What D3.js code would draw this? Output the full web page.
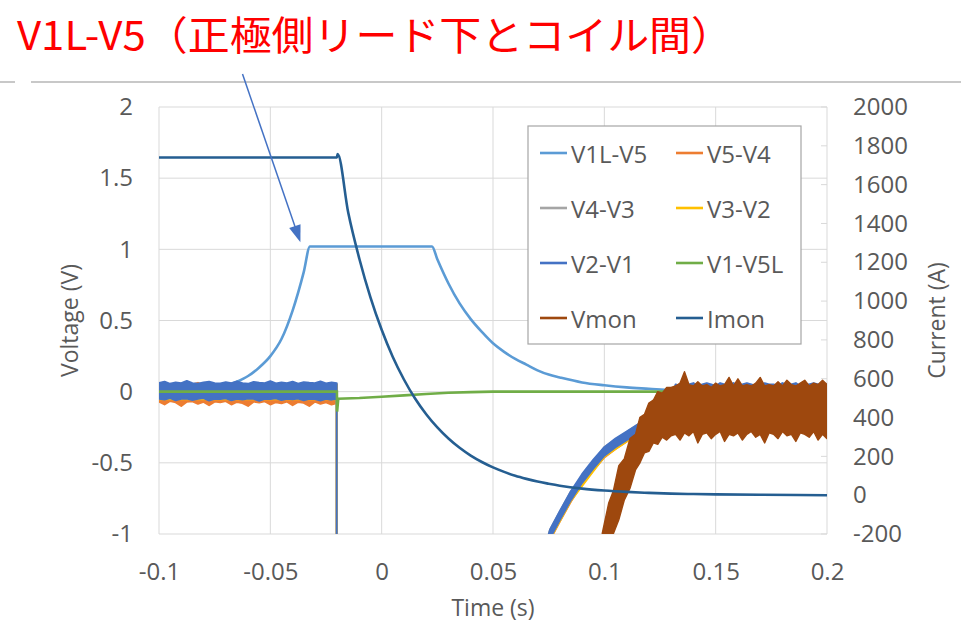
<!DOCTYPE html>
<html>
<head>
<meta charset="utf-8">
<script src="https://cdn.jsdelivr.net/npm/d3@7"></script>
<style>
  body { margin: 0; background: #fff; }
  svg { display: block; }
  .tick text { fill: #595959; font-size: 24px; font-family: "Open Sans", sans-serif; }
</style>
</head>
<body>
<div class="chart"></div>
<script>
// ---- data ----
const titleText = 'V1L-V5（正極側リード下とコイル間）';
const timeTicks = [-0.1, -0.05, 0, 0.05, 0.1, 0.15, 0.2];
const voltTicks = [-1, -0.5, 0, 0.5, 1, 1.5, 2];
const currentTicks = [-200, 0, 200, 400, 600, 800, 1000, 1200, 1400, 1600, 1800, 2000];

const seriesNames = ['V1L-V5', 'V5-V4', 'V4-V3', 'V3-V2', 'V2-V1', 'V1-V5L', 'Vmon', 'Imon'];
const seriesColors = ['#5B9BD5', '#ED7D31', '#A5A5A5', '#FFC000', '#4472C4', '#70AD47', '#9E480E', '#255E91'];

// smooth traces [time, value]
const v1lv5 = [[-0.1, 0], [-0.08, 0.01], [-0.075, 0.02], [-0.07, 0.04], [-0.065, 0.07], [-0.06, 0.11],
  [-0.055, 0.17], [-0.05, 0.25], [-0.045, 0.37], [-0.04, 0.57], [-0.035, 0.84], [-0.0322, 1.02],
  [0.0226, 1.02], [0.025, 0.93], [0.03, 0.76], [0.035, 0.62], [0.04, 0.51], [0.045, 0.42], [0.05, 0.34],
  [0.055, 0.28], [0.06, 0.23], [0.065, 0.19], [0.07, 0.15], [0.075, 0.12], [0.08, 0.1], [0.09, 0.065],
  [0.1, 0.045], [0.11, 0.03], [0.12, 0.02], [0.13, 0.01], [0.14, 0.005], [0.2, 0]];
const v1v5l = [[-0.1, 0], [-0.0201, 0], [-0.02, -0.14], [-0.0195, -0.05], [-0.01, -0.045], [0, -0.036],
  [0.01, -0.026], [0.02, -0.016], [0.03, -0.008], [0.04, -0.003], [0.05, 0], [0.2, 0]];
const imon = [[-0.1, 1740], [-0.0201, 1740], [-0.0198, 1758], [-0.015, 1455], [-0.01, 1217], [-0.005, 1018],
  [0, 852], [0.005, 712], [0.01, 596], [0.015, 498], [0.02, 417], [0.025, 349], [0.03, 292], [0.035, 244],
  [0.04, 204], [0.045, 171], [0.05, 143], [0.055, 120], [0.06, 100], [0.065, 84], [0.07, 70], [0.075, 59],
  [0.08, 49], [0.09, 34], [0.1, 24], [0.11, 17], [0.12, 12], [0.13, 8], [0.14, 6], [0.15, 4], [0.17, 2], [0.2, 0]];

// noisy traces: sample times with lower / upper envelope
const preTimes = [-0.1, -0.0975, -0.095, -0.0925, -0.09, -0.0875, -0.085, -0.0825, -0.08, -0.0775, -0.075,
  -0.0725, -0.07, -0.0675, -0.065, -0.0625, -0.06, -0.0575, -0.055, -0.0525, -0.05, -0.0475, -0.045,
  -0.0425, -0.04, -0.0375, -0.035, -0.0325, -0.03, -0.0275, -0.025, -0.0225, -0.0202];
const dropTimes = [-0.0202, 0.066];
const dropLevel = [-3, -3];
const recTimes = [0.07, 0.0756, 0.08, 0.085, 0.09, 0.095, 0.1, 0.105, 0.11, 0.116, 0.12, 0.125, 0.13];
const flatTimes = [0.132, 0.134, 0.136, 0.138, 0.14, 0.142, 0.144, 0.146, 0.148, 0.15, 0.152, 0.154, 0.156,
  0.158, 0.16, 0.162, 0.164, 0.166, 0.168, 0.17, 0.172, 0.174, 0.176, 0.178, 0.18, 0.182, 0.184, 0.186,
  0.188, 0.19, 0.192, 0.194, 0.196, 0.198, 0.2];

const v2v1PreHi = [0.06, 0.07, 0.055, 0.065, 0.06, 0.075, 0.06, 0.055, 0.065, 0.07, 0.06, 0.058, 0.066, 0.06,
  0.072, 0.06, 0.055, 0.068, 0.062, 0.06, 0.074, 0.058, 0.064, 0.06, 0.07, 0.056, 0.066, 0.062, 0.06, 0.072,
  0.058, 0.064, 0.06];
const v2v1PreLo = [-0.05, -0.055, -0.045, -0.06, -0.05, -0.048, -0.058, -0.05, -0.045, -0.062, -0.05, -0.052,
  -0.046, -0.06, -0.05, -0.055, -0.048, -0.05, -0.065, -0.05, -0.052, -0.046, -0.058, -0.05, -0.054, -0.048,
  -0.06, -0.05, -0.052, -0.062, -0.05, -0.056, -0.05];
const v2v1RecLo = [-1.35, -1.03, -0.9, -0.76, -0.64, -0.54, -0.45, -0.39, -0.34, -0.28, -0.23, -0.18, -0.13];
const v2v1RecHi = [-1.29, -0.97, -0.84, -0.7, -0.58, -0.48, -0.39, -0.33, -0.28, -0.22, -0.17, -0.12, -0.07];
const v2v1FlatHi = [0.05, 0.04, 0.06, 0.05, 0.06, 0.04, 0.05, 0.06, 0.05, 0.04, 0.06, 0.05, 0.05, 0.06, 0.04,
  0.05, 0.06, 0.05, 0.04, 0.05, 0.06, 0.05, 0.05, 0.04, 0.06, 0.05, 0.05, 0.06, 0.04, 0.05, 0.05, 0.06, 0.05,
  0.04, 0.05];
const v2v1FlatLo = [-0.12, -0.12, -0.12, -0.12, -0.12, -0.12, -0.12, -0.12, -0.12, -0.12, -0.12, -0.12, -0.12,
  -0.12, -0.12, -0.12, -0.12, -0.12, -0.12, -0.12, -0.12, -0.12, -0.12, -0.12, -0.12, -0.12, -0.12, -0.12,
  -0.12, -0.12, -0.12, -0.12, -0.12, -0.12, -0.12];

const v5v4PreHi = [0.05, 0.068, 0.045, 0.05, 0.055, 0.048, 0.05, 0.062, 0.045, 0.05, 0.052, 0.048, 0.05, 0.055,
  0.05, 0.045, 0.05, 0.052, 0.048, 0.05, 0.055, 0.05, 0.046, 0.05, 0.052, 0.048, 0.05, 0.054, 0.05, 0.046,
  0.05, 0.052, 0.05];
const v5v4PreLo = [-0.07, -0.09, -0.065, -0.075, -0.1, -0.07, -0.068, -0.085, -0.072, -0.095, -0.07, -0.075,
  -0.066, -0.09, -0.072, -0.08, -0.1, -0.07, -0.076, -0.068, -0.09, -0.074, -0.082, -0.07, -0.095, -0.072,
  -0.078, -0.1, -0.07, -0.085, -0.075, -0.09, -0.08];
const v5v4RecLo = [-1.36, -1.042, -0.912, -0.772, -0.652, -0.552, -0.462, -0.402, -0.352, -0.292, -0.242, -0.19, -0.14];
const v5v4RecHi = [-1.3, -0.99, -0.86, -0.72, -0.6, -0.5, -0.41, -0.35, -0.3, -0.24, -0.19, -0.14, -0.09];
const v5v4TailTimes = [0.135, 0.2];
const v5v4TailLo = [-0.12, -0.12];
const v5v4TailHi = [0.03, 0.03];

const v4v3PreTimes = [-0.1, -0.06, -0.0202];
const v4v3PreLo = [-0.05, -0.05, -0.05];
const v4v3PreHi = [0.05, 0.05, 0.05];
const v4v3RecTimes = [0.07, 0.0756, 0.085, 0.1, 0.116, 0.13, 0.2];
const v4v3RecLo = [-1.35, -1.03, -0.76, -0.45, -0.28, -0.12, -0.1];
const v4v3RecHi = [-1.29, -0.97, -0.7, -0.39, -0.22, 0.02, 0.02];

const v3v2PreTimes = [-0.1, -0.06, -0.0202];
const v3v2PreLo = [-0.054, -0.054, -0.054];
const v3v2PreHi = [0.05, 0.05, 0.05];
const v3v2RecTimes = [0.07, 0.0756, 0.085, 0.1, 0.116, 0.13, 0.2];
const v3v2RecLo = [-1.355, -1.036, -0.766, -0.456, -0.286, -0.12, -0.1];
const v3v2RecHi = [-1.3, -0.98, -0.71, -0.4, -0.23, 0.02, 0.02];

const vmonRiseTimes = [0.095, 0.099, 0.102, 0.104, 0.1065, 0.109, 0.1115, 0.114, 0.116, 0.118, 0.12, 0.122,
  0.124, 0.126, 0.128, 0.13];
const vmonRiseLo = [-1.7, -1.3, -1.1, -1.0, -0.9, -0.76, -0.68, -0.55, -0.5, -0.43, -0.42, -0.36, -0.37, -0.32,
  -0.34, -0.31];
const vmonRiseHi = [-1.25, -1.0, -0.78, -0.7, -0.52, -0.47, -0.33, -0.3, -0.18, -0.16, -0.08, -0.06, 0.0, -0.01,
  0.03, 0.03];
const vmonFlatHi = [0.04, 0.06, 0.14, 0.05, 0.04, 0.07, 0.04, 0.05, 0.03, 0.06, 0.04, 0.05, 0.1, 0.04, 0.09,
  0.04, 0.05, 0.04, 0.06, 0.1, 0.04, 0.05, 0.04, 0.07, 0.04, 0.08, 0.05, 0.04, 0.06, 0.08, 0.04, 0.06, 0.05,
  0.08, 0.05];
const vmonFlatLo = [-0.3, -0.34, -0.29, -0.31, -0.28, -0.36, -0.3, -0.29, -0.33, -0.3, -0.28, -0.35, -0.3,
  -0.31, -0.29, -0.34, -0.3, -0.28, -0.32, -0.3, -0.36, -0.29, -0.3, -0.33, -0.28, -0.31, -0.3, -0.35, -0.29,
  -0.3, -0.32, -0.28, -0.34, -0.3, -0.33];

// ---- helpers ----
const rows = (ts, lo, hi) => ts.map((t, i) => ({t: t, lo: lo[i], hi: hi[i]}));

const bands = [
  {name: 'V5-V4', data: [].concat(rows(preTimes, v5v4PreLo, v5v4PreHi), rows(dropTimes, dropLevel, dropLevel),
    rows(recTimes, v5v4RecLo, v5v4RecHi), rows(v5v4TailTimes, v5v4TailLo, v5v4TailHi))},
  {name: 'V4-V3', data: [].concat(rows(v4v3PreTimes, v4v3PreLo, v4v3PreHi), rows(dropTimes, dropLevel, dropLevel),
    rows(v4v3RecTimes, v4v3RecLo, v4v3RecHi))},
  {name: 'V3-V2', data: [].concat(rows(v3v2PreTimes, v3v2PreLo, v3v2PreHi), rows(dropTimes, dropLevel, dropLevel),
    rows(v3v2RecTimes, v3v2RecLo, v3v2RecHi))},
  {name: 'V2-V1', data: [].concat(rows(preTimes, v2v1PreLo, v2v1PreHi), rows(dropTimes, dropLevel, dropLevel),
    rows(recTimes, v2v1RecLo, v2v1RecHi), rows(flatTimes, v2v1FlatLo, v2v1FlatHi))}
];
const vmonBand = [].concat(rows(vmonRiseTimes, vmonRiseLo, vmonRiseHi), rows(flatTimes, vmonFlatLo, vmonFlatHi));

const color = d3.scaleOrdinal().domain(seriesNames).range(seriesColors);

// ---- layout ----
const width = 961, height = 626;
const margin = {top: 107, right: 134, bottom: 92, left: 159};
const plotW = width - margin.left - margin.right;
const plotH = height - margin.top - margin.bottom;

const svg = d3.select('.chart').append('svg')
    .attr('width', width)
    .attr('height', height);

// title + separator line
svg.append('text')
    .attr('x', 17)
    .attr('y', 50)
    .attr('fill', '#FF0000')
    .attr('font-family', '"Noto Sans CJK JP", sans-serif')
    .attr('font-size', 40)
    .attr('textLength', 716)
    .attr('lengthAdjust', 'spacingAndGlyphs')
    .text(titleText);
svg.append('line').attr('x1', 0).attr('x2', 15).attr('y1', 82).attr('y2', 82)
    .attr('stroke', '#C8C8C8').attr('stroke-width', 2);
svg.append('line').attr('x1', 31).attr('x2', width).attr('y1', 82).attr('y2', 82)
    .attr('stroke', '#C8C8C8').attr('stroke-width', 2);

const g = svg.append('g')
    .attr('transform', 'translate(' + margin.left + ',' + margin.top + ')');

// scales
const xScale = d3.scaleLinear().domain([-0.1, 0.2]).range([0, plotW]);
const yScale = d3.scaleLinear().domain([-1, 2]).range([plotH, 0]);
const iScale = d3.scaleLinear().domain([-200, 2000]).range([plotH, 0]);

// gridlines
g.selectAll('.vgrid')
    .data(timeTicks)
    .enter()
    .append('line')
    .attr('x1', d => xScale(d)).attr('x2', d => xScale(d))
    .attr('y1', 0).attr('y2', plotH)
    .attr('stroke', '#D9D9D9');
g.selectAll('.hgrid')
    .data(voltTicks)
    .enter()
    .append('line')
    .attr('x1', 0).attr('x2', plotW)
    .attr('y1', d => yScale(d)).attr('y2', d => yScale(d))
    .attr('stroke', '#D9D9D9');
// secondary axis tick marks (inside)
g.selectAll('.itick')
    .data(currentTicks)
    .enter()
    .append('line')
    .attr('x1', plotW - 6).attr('x2', plotW)
    .attr('y1', d => iScale(d)).attr('y2', d => iScale(d))
    .attr('stroke', '#D9D9D9');

// axes
g.append('g')
    .call(d3.axisLeft(yScale).tickValues(voltTicks).tickSize(0).tickPadding(26).tickFormat(d => String(d)))
    .call(a => a.select('.domain').remove());
g.append('g')
    .attr('transform', 'translate(' + plotW + ',0)')
    .call(d3.axisRight(iScale).tickValues(currentTicks).tickSize(0).tickPadding(26).tickFormat(d => String(d)))
    .call(a => a.select('.domain').remove());
g.append('g')
    .attr('transform', 'translate(0,' + plotH + ')')
    .call(d3.axisBottom(xScale).tickValues(timeTicks).tickSize(0).tickPadding(29).tickFormat(d => String(d)))
    .call(a => a.select('.domain').remove());

// axis titles
const titleStyle = sel => sel
    .attr('fill', '#595959')
    .attr('font-family', '"Open Sans", sans-serif')
    .attr('font-size', 23)
    .attr('text-anchor', 'middle')
    .attr('dominant-baseline', 'central');
svg.append('text').call(titleStyle)
    .attr('transform', 'translate(69,' + (margin.top + plotH / 2) + ') rotate(-90)')
    .text('Voltage (V)');
svg.append('text').call(titleStyle)
    .attr('transform', 'translate(936,' + (margin.top + plotH / 2) + ') rotate(-90)')
    .text('Current (A)');
svg.append('text').call(titleStyle)
    .attr('x', margin.left + plotW / 2)
    .attr('y', 607)
    .text('Time (s)');

// clip for data
g.append('clipPath').attr('id', 'plotclip')
    .append('rect').attr('x', 0).attr('y', 0).attr('width', plotW).attr('height', plotH);
const data = g.append('g').attr('clip-path', 'url(#plotclip)');

const vLine = d3.line().x(d => xScale(d[0])).y(d => yScale(d[1])).curve(d3.curveMonotoneX);
const iLine = d3.line().x(d => xScale(d[0])).y(d => iScale(d[1])).curve(d3.curveMonotoneX);
const band = d3.area().x(d => xScale(d.t)).y0(d => yScale(d.lo)).y1(d => yScale(d.hi));

// V1L-V5
data.append('path').datum(v1lv5)
    .attr('d', vLine).attr('fill', 'none')
    .attr('stroke', color('V1L-V5')).attr('stroke-width', 2.6);

// noisy channels
data.selectAll('.band')
    .data(bands)
    .enter()
    .append('path')
    .attr('d', d => band(d.data))
    .attr('fill', d => color(d.name))
    .attr('stroke', d => color(d.name))
    .attr('stroke-width', 2)
    .attr('stroke-linejoin', 'round');

// V1-V5L
data.append('path').datum(v1v5l)
    .attr('d', d3.line().x(d => xScale(d[0])).y(d => yScale(d[1])))
    .attr('fill', 'none')
    .attr('stroke', color('V1-V5L')).attr('stroke-width', 2.6);

// Vmon
data.append('path').datum(vmonBand)
    .attr('d', band)
    .attr('fill', color('Vmon'))
    .attr('stroke', color('Vmon'))
    .attr('stroke-width', 1.4)
    .attr('stroke-linejoin', 'round');

// Imon on the secondary axis
data.append('path').datum(imon)
    .attr('d', iLine).attr('fill', 'none')
    .attr('stroke', color('Imon')).attr('stroke-width', 2.6);

// legend
const legend = svg.append('g').attr('transform', 'translate(528,126)');
legend.append('rect')
    .attr('width', 273).attr('height', 218)
    .attr('fill', '#fff').attr('stroke', '#A6A6A6').attr('stroke-width', 1.2);
const entry = legend.selectAll('.entry')
    .data(seriesNames)
    .enter()
    .append('g')
    .attr('transform', (d, i) => 'translate(' + (12 + (i % 2) * 136) + ',' + (27 + Math.floor(i / 2) * 55) + ')');
entry.append('line')
    .attr('x1', 0).attr('x2', 27)
    .attr('stroke', d => color(d)).attr('stroke-width', 2.6);
entry.append('text')
    .attr('x', 31)
    .attr('dominant-baseline', 'central')
    .attr('fill', '#595959')
    .attr('font-family', '"Open Sans", sans-serif')
    .attr('font-size', 24)
    .text(d => d);

// annotation arrow pointing at the V1L-V5 rise
const tipX = margin.left + xScale(-0.0365), tipY = margin.top + yScale(1.05);
const tailX = margin.left + xScale(-0.0625), tailY = 74;
const ang = Math.atan2(tipY - tailY, tipX - tailX);
svg.append('line')
    .attr('x1', tailX).attr('y1', tailY)
    .attr('x2', tipX - 14 * Math.cos(ang)).attr('y2', tipY - 14 * Math.sin(ang))
    .attr('stroke', '#4472C4').attr('stroke-width', 1.5);
svg.append('path')
    .attr('d', d3.line()([
        [tipX, tipY],
        [tipX - 17 * Math.cos(ang) + 6 * Math.sin(ang), tipY - 17 * Math.sin(ang) - 6 * Math.cos(ang)],
        [tipX - 17 * Math.cos(ang) - 6 * Math.sin(ang), tipY - 17 * Math.sin(ang) + 6 * Math.cos(ang)]
    ]) + 'Z')
    .attr('fill', '#4472C4');
</script>
</body>
</html>
